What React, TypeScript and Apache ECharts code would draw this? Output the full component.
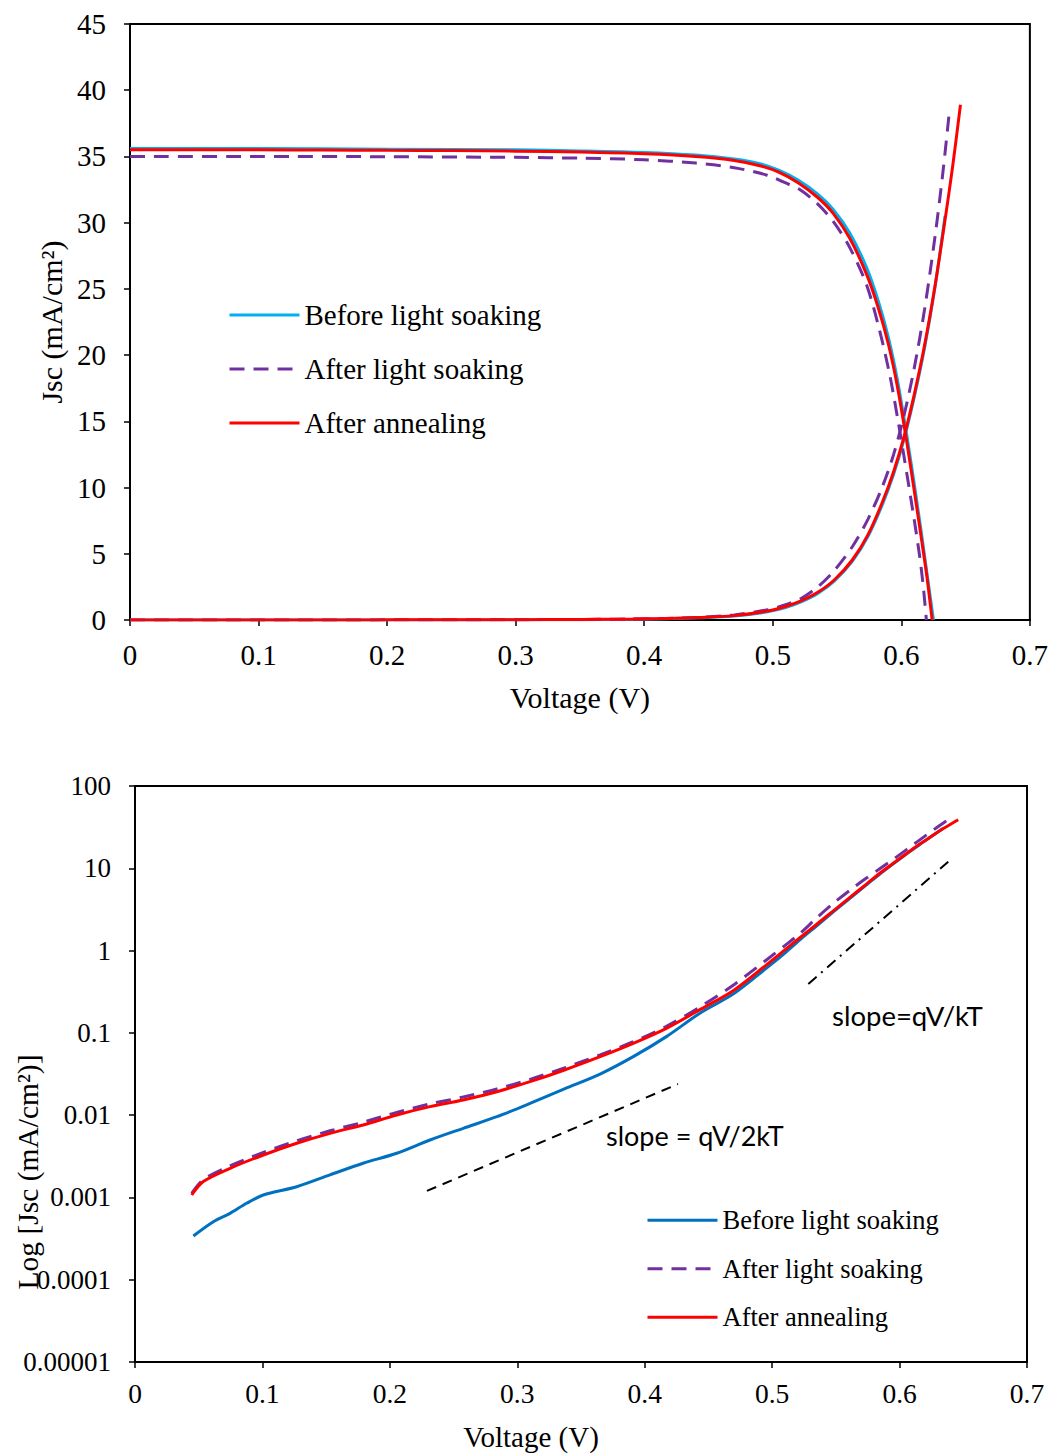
import React, { useEffect, useRef } from "react";
import * as echarts from "echarts";

const SERIF = '"Liberation Serif", "Times New Roman", serif';
const SANS = 'Lato, Carlito, Calibri, "Noto Sans", sans-serif';

const conditionNames = ["Before light soaking", "After light soaking", "After annealing"];

// Illuminated J-V curves: [voltage (V), current density (mA/cm²)]
const beforeLight: [number, number][] = [
  [0, 35.6], [0.1, 35.6], [0.2, 35.55], [0.3, 35.5], [0.35, 35.42], [0.4, 35.3],
  [0.44, 35.1], [0.47, 34.8], [0.49, 34.45], [0.505, 33.95], [0.52, 33.2],
  [0.535, 32.15], [0.547, 31.0], [0.56, 29.2], [0.573, 26.6], [0.582, 24.1],
  [0.59, 21.3], [0.597, 18.1], [0.604, 14.1], [0.61, 10.3], [0.616, 6.3],
  [0.62, 3.5], [0.625, 0],
];
const soakedLight: [number, number][] = [
  [0, 35.0], [0.1, 35.0], [0.2, 34.98], [0.3, 34.93], [0.35, 34.87], [0.4, 34.75],
  [0.44, 34.5], [0.47, 34.15], [0.495, 33.6], [0.51, 33.0], [0.521, 32.5],
  [0.534, 31.5], [0.547, 30.1], [0.56, 28.1], [0.573, 25.3], [0.583, 21.9],
  [0.591, 18.5], [0.597, 15.3], [0.602, 12.4], [0.609, 8.2], [0.614, 5.0],
  [0.617, 2.6], [0.6195, 0],
];
const annealedLight: [number, number][] = [
  [0, 35.5], [0.1, 35.5], [0.15, 35.48], [0.2, 35.46], [0.25, 35.44], [0.3, 35.4],
  [0.35, 35.33], [0.4, 35.2], [0.44, 35.0], [0.47, 34.7], [0.49, 34.3],
  [0.505, 33.8], [0.52, 33.0], [0.535, 31.9], [0.547, 30.7], [0.56, 28.8],
  [0.573, 26.1], [0.582, 23.6], [0.59, 20.8], [0.597, 17.6], [0.604, 13.6],
  [0.61, 9.8], [0.616, 5.9], [0.62, 3.2], [0.624, 0],
];

// Dark J-V curves: [voltage (V), current density (mA/cm²)]
const beforeDark: [number, number][] = [
  [0, 0], [0.0458, 0.00034], [0.0615, 0.000507], [0.0746, 0.000641], [0.0876, 0.000849],
  [0.1007, 0.00107], [0.1269, 0.00135], [0.153, 0.00188], [0.179, 0.0026],
  [0.2054, 0.00344], [0.2315, 0.00499], [0.2576, 0.00692], [0.284, 0.00957],
  [0.31, 0.0139], [0.337, 0.0209], [0.365, 0.0316], [0.391, 0.0514], [0.417, 0.09],
  [0.443, 0.172], [0.47, 0.3], [0.496, 0.62], [0.51, 0.93], [0.522, 1.36],
  [0.535, 2.0], [0.548, 2.95], [0.562, 4.45], [0.574, 6.3], [0.585, 8.65],
  [0.594, 11.0], [0.602, 13.6], [0.61, 16.8], [0.618, 20.5], [0.626, 25.0],
  [0.634, 30.5],
];
const soakedDark: [number, number][] = [
  [0, 0], [0.0445, 0.00112], [0.0536, 0.00165], [0.0746, 0.00242], [0.1007, 0.00352],
  [0.1269, 0.00488], [0.153, 0.00645], [0.179, 0.0082], [0.2054, 0.0108],
  [0.2315, 0.0137], [0.2576, 0.0166], [0.284, 0.0208], [0.31, 0.0272],
  [0.337, 0.0375], [0.365, 0.054], [0.391, 0.078], [0.417, 0.12], [0.443, 0.205],
  [0.47, 0.385], [0.496, 0.78], [0.51, 1.15], [0.522, 1.62], [0.535, 2.5],
  [0.548, 3.75], [0.562, 5.55], [0.574, 7.6], [0.585, 10.0], [0.594, 12.5],
  [0.602, 15.4], [0.61, 19.0], [0.618, 23.4], [0.626, 28.8], [0.632, 33.5],
  [0.6375, 38.5],
];
const annealedDark: [number, number][] = [
  [0, 0], [0.0445, 0.00107], [0.0536, 0.00156], [0.0746, 0.00226], [0.1007, 0.00328],
  [0.1269, 0.00455], [0.153, 0.00601], [0.179, 0.00759], [0.2054, 0.01005],
  [0.2315, 0.01268], [0.2576, 0.01528], [0.284, 0.01928], [0.31, 0.0255],
  [0.337, 0.0354], [0.365, 0.0514], [0.391, 0.0746], [0.417, 0.1135], [0.443, 0.19],
  [0.47, 0.33], [0.496, 0.68], [0.51, 1.02], [0.522, 1.44], [0.535, 2.09],
  [0.548, 3.04], [0.562, 4.55], [0.574, 6.43], [0.585, 8.83], [0.594, 11.2],
  [0.602, 13.8], [0.61, 17.0], [0.618, 20.7], [0.626, 25.1], [0.634, 30.2],
  [0.64, 34.3], [0.646, 38.9],
];

// Reference slope guides on the semi-log plot
const slopeHalfGuide: [number, number][] = [[0.2291, 0.0012], [0.4261, 0.0239]];
const slopeFullGuide: [number, number][] = [[0.5284, 0.393], [0.6382, 12.0]];
const slopeHalfLabel = "slope = qV/2kT";
const slopeFullLabel = "slope=qV/kT";

const logTickLabels = ["0.00001", "0.0001", "0.001", "0.01", "0.1", "1", "10", "100"];

const BLACK = "#000";
const axisLine = { show: true, lineStyle: { color: BLACK, width: 2 } };
const axisTick = { show: true, inside: false, length: 6, lineStyle: { color: BLACK, width: 1.5 } };
const serifText = (size: number) => ({ fontFamily: SERIF, fontSize: size, color: BLACK });

const styleOf = (color: string, dashed: boolean) => ({
  color,
  width: 3,
  type: dashed ? [15, 9] : "solid",
});

const curveSeries = (c: { name: string; color: string; dashed: boolean; data: [number, number][] }) => ({
  type: "line",
  name: c.name,
  data: c.data,
  symbol: "none",
  smooth: 0.3,
  lineStyle: styleOf(c.color, c.dashed),
  itemStyle: { color: c.color },
});

const legendBase = {
  data: conditionNames,
  orient: "vertical",
  itemWidth: 70,
  itemHeight: 14,
  itemStyle: { opacity: 0 },
  lineStyle: { width: 3 },
  selectedMode: false,
};

function buildTopOption() {
  const curves = [
    { name: conditionNames[0], color: "#00B0F0", dashed: false, data: beforeLight },
    { name: conditionNames[0], color: "#00B0F0", dashed: false, data: beforeDark },
    { name: conditionNames[1], color: "#7030A0", dashed: true, data: soakedLight },
    { name: conditionNames[1], color: "#7030A0", dashed: true, data: soakedDark },
    { name: conditionNames[2], color: "#FF0000", dashed: false, data: annealedLight },
    { name: conditionNames[2], color: "#FF0000", dashed: false, data: annealedDark },
  ];
  return {
    animation: false,
    grid: {
      left: 130, right: 21, top: 24, height: 596,
      show: true, borderColor: BLACK, borderWidth: 2, backgroundColor: "transparent",
    },
    legend: {
      ...legendBase,
      left: 223,
      top: 295.5,
      itemGap: 25,
      textStyle: { ...serifText(29), lineHeight: 29 },
    },
    xAxis: {
      type: "value", min: 0, max: 0.7, interval: 0.1,
      axisLine, axisTick, splitLine: { show: false },
      axisLabel: { ...serifText(29), margin: 20 },
      name: "Voltage (V)", nameLocation: "middle", nameGap: 62,
      nameTextStyle: serifText(30),
    },
    yAxis: {
      type: "value", min: 0, max: 45, interval: 5,
      axisLine, axisTick, splitLine: { show: false },
      axisLabel: { ...serifText(29), margin: 24 },
      name: "Jsc (mA/cm²)", nameLocation: "middle", nameRotate: 90, nameGap: 60,
      nameTextStyle: serifText(30),
    },
    series: curves.map(curveSeries),
  };
}

function buildBottomOption() {
  const positive = (d: [number, number][]) => d.filter((p) => p[1] > 0);
  const curves = [
    { name: conditionNames[0], color: "#0070C0", dashed: false, data: positive(beforeDark) },
    { name: conditionNames[1], color: "#7030A0", dashed: true, data: positive(soakedDark) },
    { name: conditionNames[2], color: "#FF0000", dashed: false, data: positive(annealedDark) },
  ];
  return {
    animation: false,
    grid: {
      left: 135, right: 24, top: 46, height: 576,
      show: true, borderColor: BLACK, borderWidth: 2, backgroundColor: "transparent",
    },
    legend: {
      ...legendBase,
      left: 641,
      top: 461.75,
      itemGap: 21.5,
      textStyle: { ...serifText(26.5), lineHeight: 26.5 },
    },
    xAxis: {
      type: "value", min: 0, max: 0.7, interval: 0.1,
      axisLine, axisTick, splitLine: { show: false },
      axisLabel: { ...serifText(27.5), margin: 17.5 },
    },
    yAxis: {
      type: "log", logBase: 10, min: 0.00001, max: 100,
      axisLine, axisTick, splitLine: { show: false }, minorTick: { show: false },
      axisLabel: {
        ...serifText(27),
        margin: 24,
        formatter: (v: number) => logTickLabels[Math.round(Math.log10(v)) + 5] ?? "",
      },
    },
    graphic: [
      {
        type: "text", x: 28, y: 432, rotation: Math.PI / 2,
        style: {
          text: "Log [Jsc (mA/cm²)]", font: `29.5px ${SERIF}`, fill: BLACK,
          textAlign: "center", textVerticalAlign: "middle",
        },
      },
      {
        type: "text", x: 531, y: 697,
        style: {
          text: "Voltage (V)", font: `29px ${SERIF}`, fill: BLACK,
          textAlign: "center", textVerticalAlign: "middle",
        },
      },
      {
        type: "text", x: 606, y: 395,
        style: { text: slopeHalfLabel, font: `27px ${SANS}`, fill: BLACK, textVerticalAlign: "middle" },
      },
      {
        type: "text", x: 832, y: 275,
        style: { text: slopeFullLabel, font: `27.5px ${SANS}`, fill: BLACK, textVerticalAlign: "middle" },
      },
    ],
    series: [
      ...curves.map(curveSeries),
      {
        type: "line", name: "guide-half", data: slopeHalfGuide, symbol: "none",
        lineStyle: { color: BLACK, width: 2, type: [10, 7] }, z: 1,
      },
      {
        type: "line", name: "guide-full", data: slopeFullGuide, symbol: "none",
        lineStyle: { color: BLACK, width: 2, type: [11, 6, 2, 6] }, z: 1,
      },
    ],
  };
}

function Chart({ top, height, build }: { top: number; height: number; build: () => any }) {
  const ref = useRef<HTMLDivElement>(null);
  useEffect(() => {
    if (!ref.current) return;
    const chart = echarts.init(ref.current, undefined, { renderer: "svg" });
    chart.setOption(build());
    return () => chart.dispose();
  }, [build]);
  return (
    <div
      ref={ref}
      style={{ position: "absolute", left: 0, top, width: 1051, height }}
    />
  );
}

export default function App() {
  return (
    <div style={{ position: "absolute", left: 0, top: 0, width: 1051, height: 1454, background: "#fff" }}>
      <Chart top={0} height={740} build={buildTopOption} />
      <Chart top={740} height={714} build={buildBottomOption} />
    </div>
  );
}
